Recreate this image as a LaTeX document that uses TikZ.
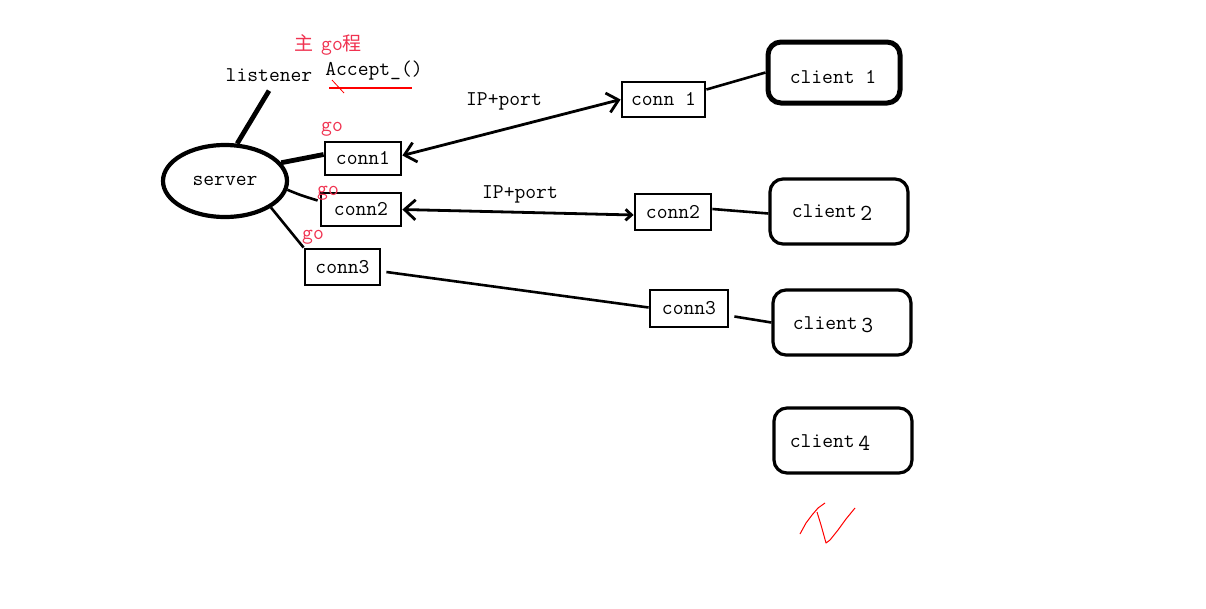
\documentclass[tikz,border=0pt]{standalone}
\usepackage{fontspec}
\newfontfamily\cjk{Noto Sans CJK SC}
\usetikzlibrary{arrows.meta,shapes.geometric}
\definecolor{gored}{RGB}{240,50,80}
\definecolor{ulred}{RGB}{255,0,0}
\begin{document}
\begin{tikzpicture}[x=1pt,y=-1pt,
  font=\fontsize{21}{24}\selectfont\ttfamily,
  connbox/.style={draw, line width=2.8pt, inner sep=0pt},
  clientbox/.style={draw, rounded corners=13pt, line width=3.2pt, inner sep=0pt, minimum width=138pt, minimum height=65pt},
  golabel/.style={text=gored, inner sep=0pt},
  plain/.style={inner sep=0pt},
  thinline/.style={line width=2.6pt},
  thickline/.style={line width=4.8pt},
  dblarrow/.style={line width=2.8pt, {Straight Barb[length=11pt,width=20pt]}-{Straight Barb[length=11pt,width=20pt]}}
]
\useasboundingbox (0,0) rectangle (1206,608);
\fill[white] (0,0) rectangle (1206,608);

% server side
\node[draw, ellipse, line width=4.2pt, minimum width=124pt, minimum height=72pt, inner sep=0pt] (server) at (225,181) {server};
\node[plain] (listener) at (269,75) {listener};
\node[plain] (accept) at (374,71) {Accept\_()};
\node[plain, text=gored] (main) at (328,45) {{\cjk\fontsize{19}{22}\selectfont 主}\hspace{8pt}go{\cjk\fontsize{19}{22}\selectfont 程}};
\draw[ulred, line width=1.3pt] (329,88) -- (412,88);
\draw[ulred, line width=0.8pt] (332,80) -- (344,93);

\node[connbox, minimum width=76pt, minimum height=33pt] (c1) at (363,158.5) {conn1};
\node[connbox, minimum width=80pt, minimum height=33pt] (c2) at (361,209.5) {conn2};
\node[connbox, minimum width=75pt, minimum height=36pt] (c3) at (342.5,267) {conn3};
\node[golabel] (g1) at (332,129) {go};
\node[golabel] (g2) at (328,193) {go};
\node[golabel] (g3) at (313,237) {go};

\draw[thickline] (server.72) -- ([yshift=-9pt]listener.south);
\draw[thickline] (server.18) -- ([yshift=4pt]c1.west);
\draw[thinline] (server.-8) .. controls (300,195) .. ([yshift=9pt,xshift=-2pt]c2.west);
\draw[thinline] (server.-30) -- (c3.north west);

% client side
\node[connbox, minimum width=83pt, minimum height=35pt] (r1) at (663.5,99.5) {conn 1};
\node[connbox, minimum width=76pt, minimum height=36pt] (r2) at (673,212) {conn2};
\node[connbox, minimum width=78pt, minimum height=37pt] (r3) at (689,308.5) {conn3};

\node[clientbox, line width=5pt, minimum width=132pt, minimum height=61pt] (cl1) at (834,72.5) {};
\node[clientbox] (cl2) at (839,211.5) {};
\node[clientbox] (cl3) at (842,322.5) {};
\node[clientbox] (cl4) at (843,440.5) {};
\node[plain] (t1) at (833,77) {client 1};
\node[plain] (t2) at (832,213) {client\,\raisebox{-3pt}{\fontsize{23}{24}\selectfont 2}};
\node[plain] (t3) at (833,325) {client\,\raisebox{-3pt}{\fontsize{23}{24}\selectfont 3}};
\node[plain] (t4) at (830,443) {client\,\raisebox{-3pt}{\fontsize{23}{24}\selectfont 4}};

% connections
\draw[dblarrow] ([yshift=3pt]c1.east) -- (r1.west);
\node[plain] (ip1) at (504,101) {IP+port};
\draw[line width=2.8pt, {Straight Barb[length=11pt,width=20pt]}-{Straight Barb[length=6pt,width=11pt]}] (c2.east) -- ([yshift=-3pt]r2.west);
\node[plain] (ip2) at (520,194) {IP+port};
\draw[thinline] ([xshift=5pt,yshift=-5pt]c3.east) -- ([yshift=1pt]r3.west);

\draw[thinline] ([yshift=10pt]r1.east) -- (cl1.west);
\draw[thinline] ([yshift=3pt]r2.east) -- ([yshift=-2pt]cl2.west);
\draw[thinline] ([xshift=5pt,yshift=-8pt]r3.east) -- (cl3.west);

% red scribble
\draw[ulred, line width=1pt, line join=round] (800,534) -- (806,523) -- (812,515) -- (818,508) -- (825,503);
\draw[ulred, line width=1pt, line join=round] (817,512) -- (821,525) -- (826,543) -- (830,540) -- (838,530) -- (846,519) -- (855,508);
\end{tikzpicture}
\end{document}
